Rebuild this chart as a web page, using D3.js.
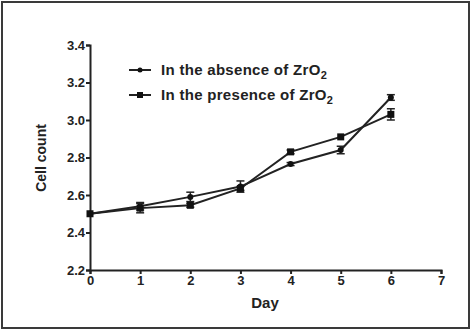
<!DOCTYPE html>
<html><head><meta charset="utf-8">
<script src="https://cdn.jsdelivr.net/npm/d3@7"></script>
<style>body{margin:0;background:#fff}svg{display:block}text{font-family:"Liberation Sans",Arial,sans-serif;font-weight:bold;fill:#222}</style>
</head><body>
<script>
const days = [0,1,2,3,4,5,6];
const absence = [2.50,2.54,2.59,2.645,2.765,2.84,3.12];
const absenceErr = [0.005,0.02,0.025,0.03,0.008,0.02,0.015];
const presence = [2.50,2.53,2.545,2.635,2.83,2.91,3.03];
const presenceErr = [0.005,0.025,0.01,0.01,0.01,0.005,0.03];
const xTicks = [0,1,2,3,4,5,6,7];
const yTicks = [2.2,2.4,2.6,2.8,3.0,3.2,3.4];
const seriesNames = ["In the absence of ZrO","In the presence of ZrO"];

const W=472,H=331;
const svg=d3.select("body").append("svg").attr("width",W).attr("height",H);
svg.append("rect").attr("x",2).attr("y",2).attr("width",W-5).attr("height",H-5)
  .attr("fill","none").attr("stroke","#3a3a3a").attr("stroke-width",2);

const x=d3.scaleLinear().domain([0,7]).range([90,441]);
const y=d3.scaleLinear().domain([2.2,3.4]).range([270,45]);

const gx=svg.append("g").attr("transform","translate(0,270)")
  .call(d3.axisBottom(x).tickValues(xTicks).tickSize(4).tickFormat(d3.format("d")));
const gy=svg.append("g").attr("transform","translate(90,0)")
  .call(d3.axisLeft(y).tickValues(yTicks).tickSize(4).tickFormat(d3.format(".1f")));
[gx,gy].forEach(g=>{
  g.select(".domain").attr("stroke","#222").attr("stroke-width",2);
  g.selectAll(".tick line").attr("stroke","#222").attr("stroke-width",2);
  g.selectAll("text").style("font-family","Liberation Sans, Arial, sans-serif")
   .style("font-weight","bold").style("font-size","13px").attr("fill","#222");
});
gy.selectAll("text").attr("dx","2");
gx.selectAll("text").attr("dy","0.6em");

svg.append("text").attr("transform","translate(46,158) rotate(-90)")
  .attr("text-anchor","middle").style("font-size","14px").text("Cell count");
svg.append("text").attr("x",265).attr("y",308).attr("text-anchor","middle")
  .style("font-size","15px").text("Day");

const line=d3.line().x((d,i)=>x(days[i])).y(d=>y(d));
function drawSeries(vals,errs,marker){
  svg.append("path").datum(vals).attr("d",line).attr("fill","none")
    .attr("stroke","#222").attr("stroke-width",2);
  vals.forEach((v,i)=>{
    const cx=x(days[i]);
    const e=errs[i];
    if(e>0.006){
      svg.append("line").attr("x1",cx).attr("x2",cx).attr("y1",y(v-e)).attr("y2",y(v+e)).attr("stroke","#222").attr("stroke-width",1.5);
      [v-e,v+e].forEach(t=>svg.append("line").attr("x1",cx-4).attr("x2",cx+4).attr("y1",y(t)).attr("y2",y(t)).attr("stroke","#222").attr("stroke-width",1.5));
    }
    if(marker==="circle") svg.append("circle").attr("cx",cx).attr("cy",y(v)).attr("r",3).attr("fill","#111");
    else svg.append("rect").attr("x",cx-3.5).attr("y",y(v)-3.5).attr("width",7).attr("height",7).attr("fill","#111");
  });
}
drawSeries(absence,absenceErr,"circle");
drawSeries(presence,presenceErr,"square");

const leg=[{name:seriesNames[0],m:"circle",y:70},{name:seriesNames[1],m:"square",y:95}];
leg.forEach(l=>{
  svg.append("line").attr("x1",129).attr("x2",151).attr("y1",l.y).attr("y2",l.y).attr("stroke","#222").attr("stroke-width",2);
  if(l.m==="circle") svg.append("circle").attr("cx",140).attr("cy",l.y).attr("r",2.5).attr("fill","#111");
  else svg.append("rect").attr("x",137).attr("y",l.y-3).attr("width",6).attr("height",6).attr("fill","#111");
  const t=svg.append("text").attr("x",161).attr("y",l.y+5).style("font-size","15px").style("letter-spacing","0.3px").text(l.name);
  t.append("tspan").attr("dy",4).style("font-size","11px").text("2");
});
</script>
</body></html>
